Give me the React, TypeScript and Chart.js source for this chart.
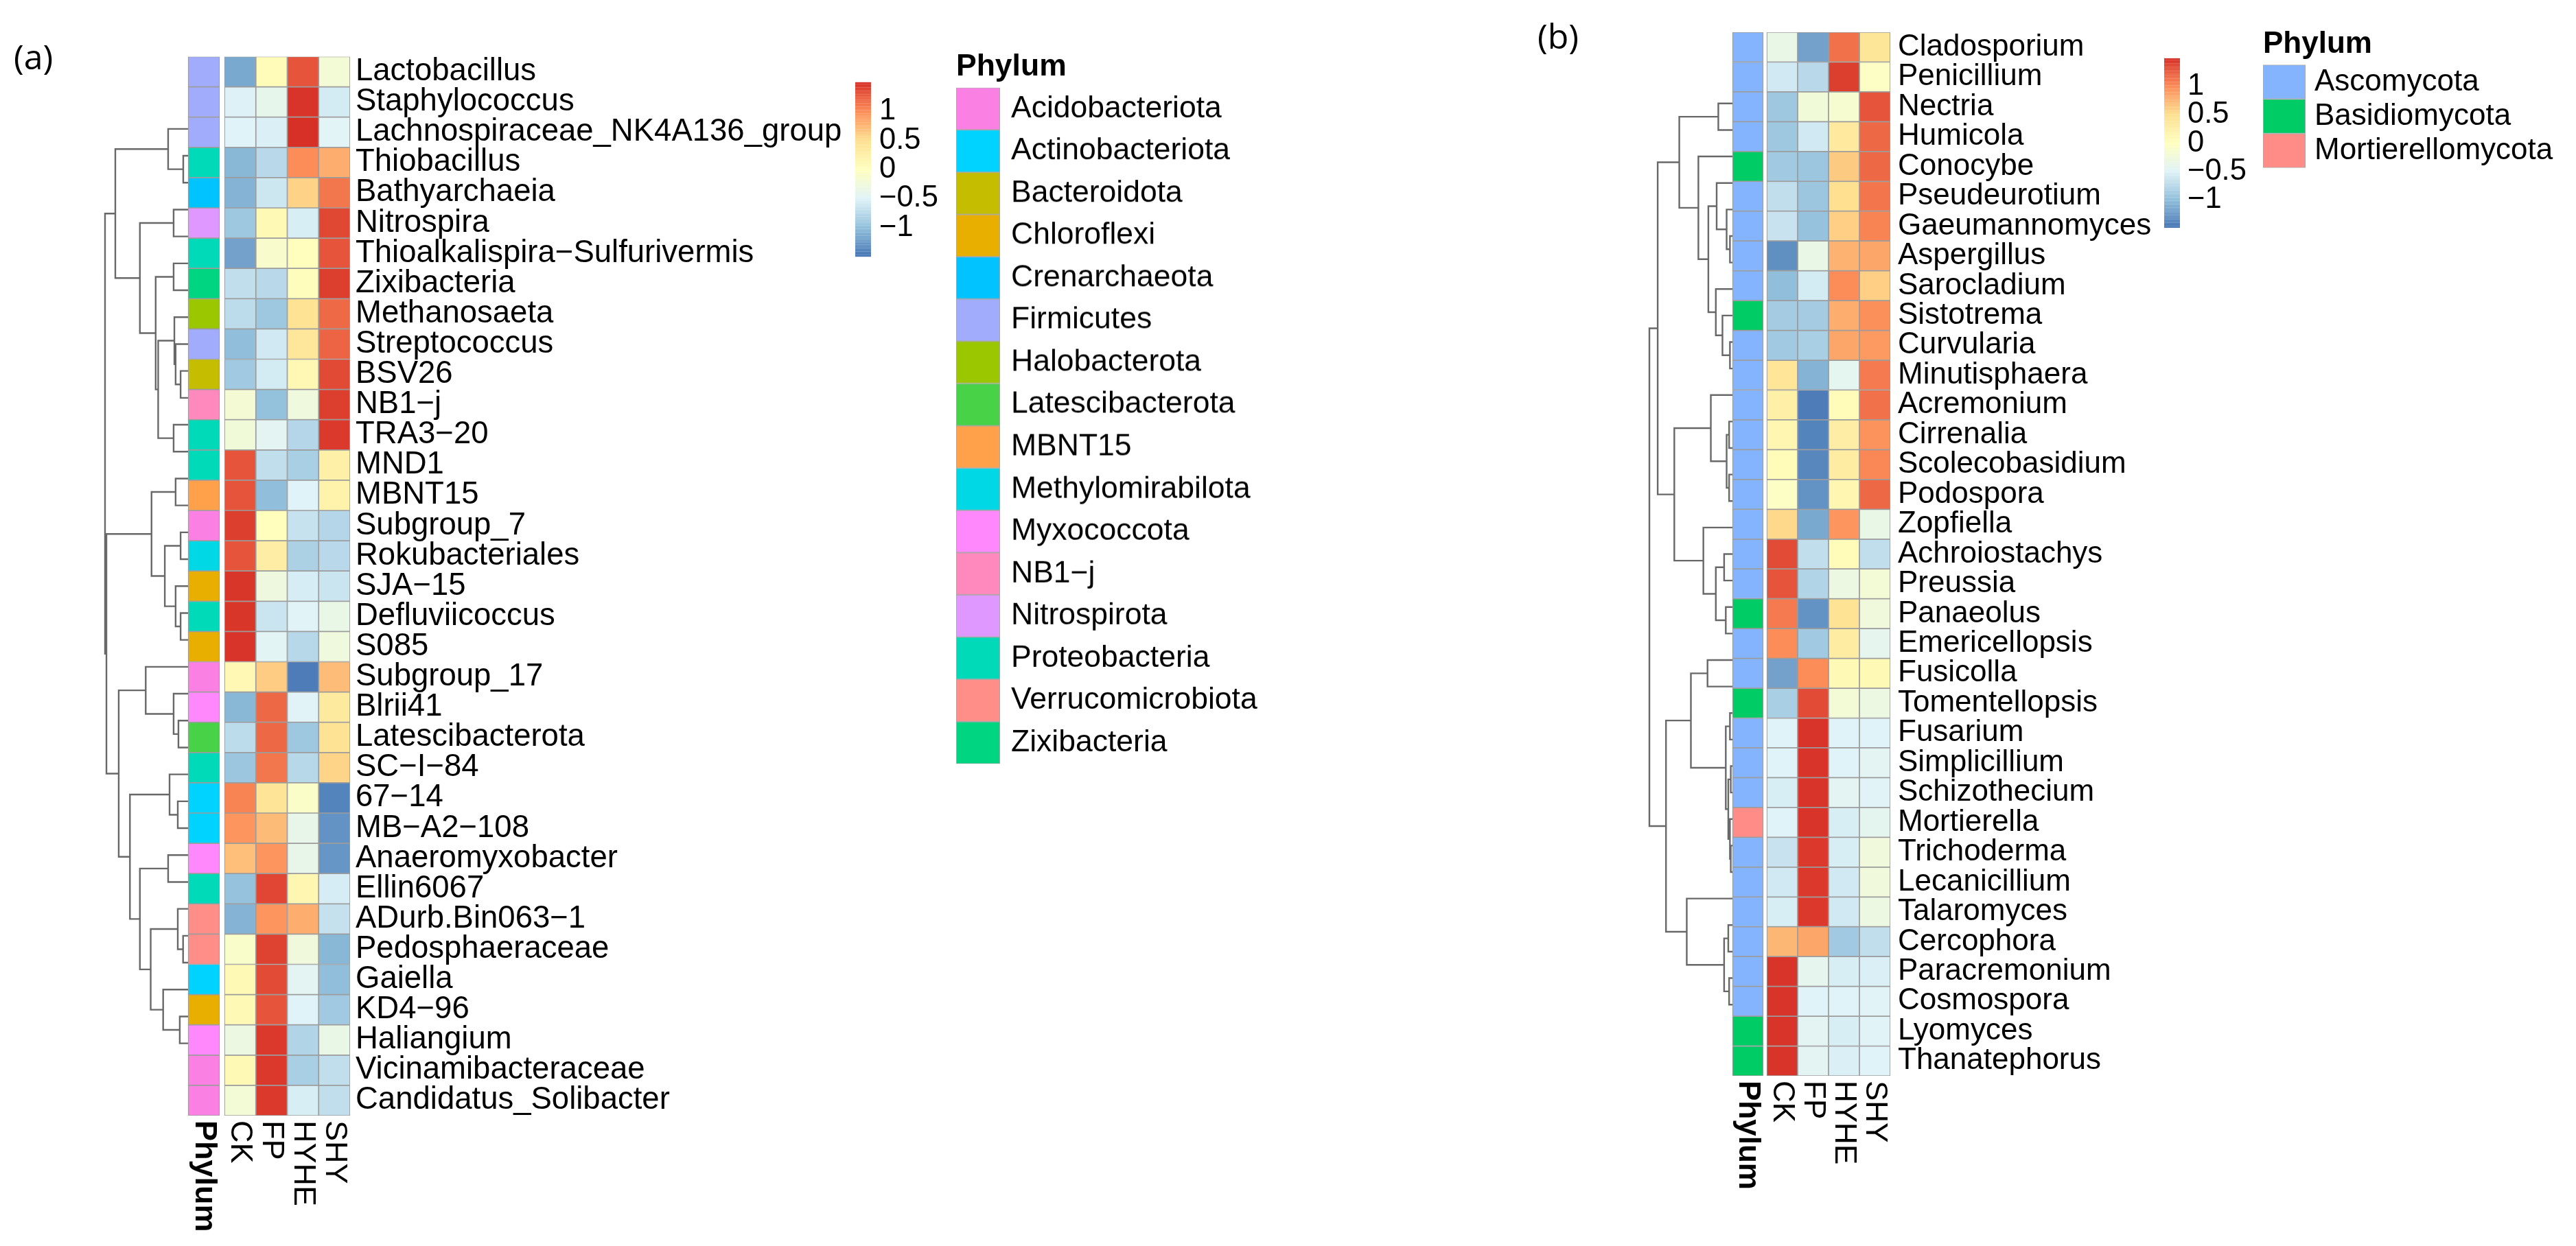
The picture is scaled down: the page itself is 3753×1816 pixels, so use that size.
import React, { useEffect, useRef } from "react";
import { Chart, registerables } from "chart.js";
Chart.register(...registerables);

const FONT = '"Liberation Sans", Arial, Helvetica, sans-serif';

// ---------------- Panel (a) data ----------------
const columnsA = ["CK", "FP", "HYHE", "SHY"];
const rowsA = [
  "Lactobacillus", "Staphylococcus", "Lachnospiraceae_NK4A136_group", "Thiobacillus", "Bathyarchaeia",
  "Nitrospira", "Thioalkalispira\u2212Sulfurivermis", "Zixibacteria", "Methanosaeta", "Streptococcus",
  "BSV26", "NB1\u2212j", "TRA3\u221220", "MND1", "MBNT15", "Subgroup_7", "Rokubacteriales", "SJA\u221215",
  "Defluviicoccus", "S085", "Subgroup_17", "Blrii41", "Latescibacterota", "SC\u2212I\u221284", "67\u221214",
  "MB\u2212A2\u2212108", "Anaeromyxobacter", "Ellin6067", "ADurb.Bin063\u22121", "Pedosphaeraceae", "Gaiella",
  "KD4\u221296", "Haliangium", "Vicinamibacteraceae", "Candidatus_Solibacter",
];
const phylaA = [
  "Acidobacteriota", "Actinobacteriota", "Bacteroidota", "Chloroflexi", "Crenarchaeota", "Firmicutes",
  "Halobacterota", "Latescibacterota", "MBNT15", "Methylomirabilota", "Myxococcota", "NB1\u2212j",
  "Nitrospirota", "Proteobacteria", "Verrucomicrobiota", "Zixibacteria",
];
const phylumColorsA = [
  "#FB80E3", "#00D3FF", "#C5BD00", "#E8AE00", "#00C3FF", "#A1ADFC", "#9BC700", "#47D247",
  "#FFA04A", "#00D8E6", "#FF88FC", "#FF88BD", "#DF98FF", "#00DAB8", "#FF8E88", "#00D681",
];
// phylum index for every row of panel (a)
const rowPhylumA = [5, 5, 5, 13, 4, 12, 13, 15, 6, 5, 2, 11, 13, 13, 8, 0, 9, 3, 13, 3, 0, 10, 7, 13, 1, 1, 10, 13, 14, 14, 1, 3, 10, 0, 0];
const ckA = [-1.15, -0.52, -0.5, -1.05, -1.08, -0.92, -1.2, -0.7, -0.72, -1.0, -0.9, -0.18, -0.22, 1.3, 1.3, 1.42, 1.3, 1.47, 1.47, 1.48, 0.12, -1.05, -0.73, -0.93, 1.05, 0.95, 0.7, -0.97, -1.08, -0.1, 0.1, 0.1, -0.3, 0.1, -0.2];
const fpA = [0.05, -0.38, -0.53, -0.75, -0.62, 0.1, -0.12, -0.75, -0.92, -0.6, -0.58, -0.98, -0.45, -0.7, -1.0, 0.02, 0.28, -0.28, -0.63, -0.46, 0.62, 1.2, 1.2, 1.12, 0.43, 0.72, 0.95, 1.38, 0.95, 1.4, 1.35, 1.3, 1.45, 1.45, 1.45];
const hyheA = [1.3, 1.48, 1.5, 1.0, 0.58, -0.55, 0.02, 0.03, 0.45, 0.38, 0.12, -0.26, -0.78, -0.85, -0.5, -0.66, -0.83, -0.56, -0.49, -0.76, -1.45, -0.49, -0.92, -0.76, -0.08, -0.37, -0.37, 0.15, 0.8, -0.25, -0.45, -0.5, -0.8, -0.85, -0.55];
const shyA = [-0.2, -0.58, -0.47, 0.8, 1.12, 1.37, 1.3, 1.42, 1.19, 1.22, 1.36, 1.42, 1.45, 0.25, 0.2, -0.78, -0.75, -0.63, -0.35, -0.26, 0.71, 0.34, 0.45, 0.57, -1.4, -1.3, -1.28, -0.56, -0.67, -1.05, -1.0, -0.9, -0.35, -0.7, -0.7];

// row dendrogram of (a): [height, left, right], leaves are row indices
type Tree = number | [number, Tree, Tree];
const treeA: Tree = [1.0,
  [0.876,
    [0.24, 0, [0.058, 1, 2]],
    [0.58, [0.174, 3, 4],
      [0.39, [0.174, 5, 6],
        [0.36, [0.165, 7, [0.15, 8, [0.09, 9, 10]]], [0.174, 11, 12]]]]],
  [0.983,
    [0.44, [0.15, 13, 14], [0.28, [0.09, 15, 16], [0.15, 17, [0.09, 18, 19]]]],
    [0.835,
      [0.51, 20, [0.174, 21, [0.116, 22, 23]]],
      [0.7, [0.223, 24, [0.124, 25, 26]],
        [0.58, [0.24, 27, 28],
          [0.45, [0.124, 29, [0.06, 30, 31]], [0.3, 32, [0.1, 33, 34]]]]]]]];

// ---------------- Panel (b) data ----------------
const columnsB = ["CK", "FP", "HYHE", "SHY"];
const rowsB = [
  "Cladosporium", "Penicillium", "Nectria", "Humicola", "Conocybe", "Pseudeurotium", "Gaeumannomyces",
  "Aspergillus", "Sarocladium", "Sistotrema", "Curvularia", "Minutisphaera", "Acremonium", "Cirrenalia",
  "Scolecobasidium", "Podospora", "Zopfiella", "Achroiostachys", "Preussia", "Panaeolus", "Emericellopsis",
  "Fusicolla", "Tomentellopsis", "Fusarium", "Simplicillium", "Schizothecium", "Mortierella", "Trichoderma",
  "Lecanicillium", "Talaromyces", "Cercophora", "Paracremonium", "Cosmospora", "Lyomyces", "Thanatephorus",
];
const phylaB = ["Ascomycota", "Basidiomycota", "Mortierellomycota"];
const phylumColorsB = ["#85B4FF", "#00CC66", "#FF8C86"];
const rowPhylumB = [0, 0, 0, 0, 1, 0, 0, 0, 0, 1, 0, 0, 0, 0, 0, 0, 0, 0, 0, 1, 0, 0, 1, 0, 0, 0, 2, 0, 0, 0, 0, 0, 0, 1, 1];
const ckB = [-0.35, -0.6, -0.92, -0.92, -0.9, -0.7, -0.65, -1.32, -1.0, -0.88, -0.9, 0.42, 0.25, 0.15, 0.05, -0.05, 0.55, 1.35, 1.3, 1.1, 1.0, -1.2, -0.85, -0.5, -0.5, -0.55, -0.5, -0.65, -0.6, -0.55, 0.75, 1.48, 1.48, 1.48, 1.48];
const fpB = [-1.2, -0.75, -0.22, -0.6, -0.93, -0.93, -0.97, -0.35, -0.58, -0.88, -0.85, -1.08, -1.45, -1.4, -1.38, -1.3, -1.15, -0.7, -0.8, -1.3, -0.9, 1.0, 1.35, 1.48, 1.48, 1.48, 1.48, 1.45, 1.45, 1.45, 0.85, -0.4, -0.5, -0.45, -0.45];
const hyheB = [1.15, 1.42, -0.15, 0.35, 0.63, 0.5, 0.6, 0.78, 1.0, 0.8, 0.85, -0.42, 0.05, 0.28, 0.3, 0.15, 0.95, 0.05, -0.3, 0.45, 0.3, 0.1, -0.2, -0.5, -0.5, -0.45, -0.55, -0.55, -0.6, -0.6, -0.9, -0.55, -0.5, -0.55, -0.53];
const shyB = [0.4, -0.05, 1.3, 1.2, 1.2, 1.13, 1.05, 0.85, 0.6, 0.98, 0.92, 1.1, 1.15, 0.97, 1.03, 1.2, -0.35, -0.7, -0.2, -0.25, -0.4, 0.1, -0.3, -0.5, -0.45, -0.48, -0.43, -0.25, -0.25, -0.3, -0.7, -0.53, -0.48, -0.48, -0.5];

const treeB: Tree = [1.0,
  [0.9,
    [0.64, [0.17, 0, 1],
      [0.41, 2,
        [0.29, [0.19, 3, [0.07, 4, [0.03, 5, 6]]], [0.2, 7, [0.12, 8, [0.03, 9, 10]]]]]],
    [0.7,
      [0.26, 11, [0.07, [0.04, 12, 13], [0.04, 14, 15]]],
      [0.35, 16, [0.2, [0.1, 17, 18], [0.08, 19, 20]]]]],
  [0.8,
    [0.5, [0.3, 21, 22],
      [0.08, [0.03, 23, 24], [0.05, [0.02, 25, 26], [0.03, 27, [0.02, 28, 29]]]]],
    [0.55, 30, [0.1, [0.05, 31, 32], [0.04, 33, 34]]]]];

// colour scale (rev RdYlBu, 7 classes) over [-1.5, 1.5]
const scaleStops = ["#4575B4", "#91BFDB", "#E0F3F8", "#FFFFBF", "#FEE090", "#FC8D59", "#D73027"];
const scaleMin = -1.5;
const scaleMax = 1.5;
const legendTicks = [-1, -0.5, 0, 0.5, 1];

function hexToRgb(h: string) {
  const n = parseInt(h.slice(1), 16);
  return [(n >> 16) & 255, (n >> 8) & 255, n & 255];
}
function colorFor(v: number) {
  let t = (v - scaleMin) / (scaleMax - scaleMin);
  t = Math.max(0, Math.min(1, t));
  const p = t * (scaleStops.length - 1);
  const i = Math.min(scaleStops.length - 2, Math.floor(p));
  const f = p - i;
  const a = hexToRgb(scaleStops[i]);
  const b = hexToRgb(scaleStops[i + 1]);
  const c = a.map((x, k) => Math.round(x + (b[k] - x) * f));
  return `rgb(${c[0]},${c[1]},${c[2]})`;
}

function dendroPoints(tree: Tree, leafX: number, rootX: number) {
  const pts: { x: number; y: number | null }[] = [];
  const toX = (h: number) => leafX + (rootX - leafX) * h;
  const walk = (t: Tree): { y: number; h: number } => {
    if (typeof t === "number") return { y: t, h: 0 };
    const [h, a, b] = t;
    const l = walk(a);
    const r = walk(b);
    pts.push({ x: toX(l.h), y: l.y }, { x: toX(h), y: l.y }, { x: toX(h), y: r.y }, { x: toX(r.h), y: r.y }, { x: toX(r.h), y: null });
    return { y: (l.y + r.y) / 2, h };
  };
  walk(tree);
  return pts;
}

type PanelCfg = {
  rows: string[]; columns: string[]; values: number[][]; rowPhylum: number[]; phylumColors: string[];
  tree: Tree; canvasLeft: number; annLeft: number; annRight: number; heatLeft: number; heatRight: number; rootPx: number;
  top: number; bottom: number; labelW: number; labelFont: number; labelPad: number; colFont: number;
};

const panelA: PanelCfg = {
  rows: rowsA, columns: columnsA, values: [ckA, fpA, hyheA, shyA], rowPhylum: rowPhylumA, phylumColors: phylumColorsA,
  tree: treeA, canvasLeft: 0, annLeft: 274, annRight: 320, heatLeft: 327, heatRight: 510, rootPx: 153,
  top: 82.5, bottom: 1626, labelW: 735, labelFont: 45.5, labelPad: 8, colFont: 45,
};
const panelB: PanelCfg = {
  rows: rowsB, columns: columnsB, values: [ckB, fpB, hyheB, shyB], rowPhylum: rowPhylumB, phylumColors: phylumColorsB,
  tree: treeB, canvasLeft: 2300, annLeft: 2524, annRight: 2569, heatLeft: 2574, heatRight: 2754, rootPx: 2403,
  top: 47, bottom: 1568, labelW: 399, labelFont: 44, labelPad: 11, colFont: 44,
};

const H = 1816;

function Heatmap({ cfg }: { cfg: PanelCfg }) {
  const ref = useRef<HTMLCanvasElement>(null);
  const width = cfg.heatRight - cfg.canvasLeft + cfg.labelW;
  useEffect(() => {
    const cellW = (cfg.heatRight - cfg.heatLeft) / 4;
    const toUnit = (px: number) => (px - cfg.heatLeft) / cellW;
    const chartLeft = cfg.rootPx - 3;
    const xMin = toUnit(chartLeft);
    const annL = toUnit(cfg.annLeft), annR = toUnit(cfg.annRight);
    const rootX = toUnit(cfg.rootPx);
    const n = cfg.rows.length;
    const colLabels = [{ text: "Phylum", x: (annL + annR) / 2, bold: true }].concat(
      cfg.columns.map((c, i) => ({ text: c, x: i + 0.5, bold: false }))
    );
    const colPlugin = {
      id: "colLabels",
      afterDraw(chart: any) {
        const { ctx, chartArea, scales } = chart;
        ctx.save();
        ctx.fillStyle = "#000";
        ctx.textBaseline = "middle";
        ctx.textAlign = "left";
        for (const l of colLabels) {
          ctx.font = `${l.bold ? "bold " : ""}${cfg.colFont}px ${FONT}`;
          const px = scales.x.getPixelForValue(l.x);
          ctx.save();
          ctx.translate(px, chartArea.bottom + 7);
          ctx.rotate(Math.PI / 2);
          ctx.fillText(l.text, 0, 0);
          ctx.restore();
        }
        ctx.restore();
      },
    };
    const cellDatasets: any[] = cfg.columns.map((c, ci) => ({
      type: "bar", label: c, indexAxis: "y", xAxisID: "x", yAxisID: "y",
      data: cfg.rows.map(() => [ci, ci + 1]),
      backgroundColor: cfg.values[ci].map(colorFor),
      borderColor: "#9C9C9C", borderWidth: 1.2, borderSkipped: false,
      barPercentage: 1, categoryPercentage: 1, grouped: false,
    }));
    const chart = new Chart(ref.current!, {
      type: "bar",
      data: {
        labels: cfg.rows,
        datasets: [
          ...cellDatasets,
          {
            type: "bar", label: "Phylum", indexAxis: "y", xAxisID: "x", yAxisID: "y",
            data: cfg.rows.map(() => [annL, annR]),
            backgroundColor: cfg.rowPhylum.map((p) => cfg.phylumColors[p]),
            borderColor: "#9C9C9C", borderWidth: 1.2, borderSkipped: false,
            barPercentage: 1, categoryPercentage: 1, grouped: false,
          } as any,
          {
            type: "line", label: "tree", indexAxis: "x", xAxisID: "x", yAxisID: "yd",
            data: dendroPoints(cfg.tree, annL, rootX),
            borderColor: "#686868", borderWidth: 2.4, pointRadius: 0, spanGaps: false, fill: false, tension: 0,
          } as any,
        ],
      },
      options: {
        animation: false, responsive: false, devicePixelRatio: 1, events: [],
        indexAxis: "y",
        layout: { padding: { left: chartLeft - cfg.canvasLeft, top: cfg.top, bottom: H - cfg.bottom, right: 0 } },
        plugins: { legend: { display: false }, tooltip: { enabled: false }, title: { display: false } },
        scales: {
          x: { type: "linear", min: xMin, max: 4, display: false },
          y: {
            type: "category", position: "right", offset: true,
            grid: { display: false, drawTicks: false }, border: { display: false },
            ticks: { autoSkip: false, color: "#000", padding: cfg.labelPad, font: { family: FONT, size: cfg.labelFont } },
            afterFit: (s: any) => { s.width = cfg.labelW; },
          },
          yd: { type: "linear", min: -0.5, max: n - 0.5, reverse: true, display: false },
        } as any,
      },
      plugins: [colPlugin],
    });
    return () => chart.destroy();
  }, []);
  return (
    <canvas ref={ref} width={width} height={H}
      style={{ position: "absolute", left: cfg.canvasLeft, top: 0, width, height: H }} />
  );
}

function ColorBar({ left, barW, top, bottom, font, gap }: { left: number; barW: number; top: number; bottom: number; font: number; gap: number }) {
  const ref = useRef<HTMLCanvasElement>(null);
  const axisW = 140;
  const pad = 30;
  const width = barW + axisW;
  const height = bottom - top + 2 * pad;
  useEffect(() => {
    const steps: number[] = [];
    const nSteps = 100;
    for (let i = 0; i < nSteps; i++) steps.push(scaleMin + ((i + 0.5) * (scaleMax - scaleMin)) / nSteps);
    const chart = new Chart(ref.current!, {
      type: "bar",
      data: {
        datasets: [{
          indexAxis: "y",
          data: steps.map((v) => ({ y: v, x: [0, 1] })) as any,
          backgroundColor: steps.map(colorFor),
          borderWidth: 0, barPercentage: 1.06, categoryPercentage: 1,
        } as any],
      },
      options: {
        animation: false, responsive: false, devicePixelRatio: 1, events: [],
        indexAxis: "y",
        layout: { padding: { left: 0, right: 0, top: pad, bottom: pad } },
        plugins: { legend: { display: false }, tooltip: { enabled: false } },
        scales: {
          x: { type: "linear", min: 0, max: 1, display: false },
          y: {
            type: "linear", min: scaleMin, max: scaleMax, position: "right",
            grid: { display: false, drawTicks: false }, border: { display: false },
            afterBuildTicks: (s: any) => { s.ticks = legendTicks.map((v) => ({ value: v })); },
            afterFit: (s: any) => { s.width = axisW; },
            ticks: {
              color: "#000", padding: gap, font: { family: FONT, size: font },
              callback: (v: any) => (Number(v) < 0 ? "\u2212" : "") + String(Math.abs(Number(v))),
            },
          },
        } as any,
      },
    });
    return () => chart.destroy();
  }, []);
  return (
    <canvas ref={ref} width={width} height={height}
      style={{ position: "absolute", left, top: top - pad, width, height }} />
  );
}

function PhylumLegend({ left, boxTop, box, names, colors, font, titleFont, titleCenter, labelW, gap }:
  { left: number; boxTop: number; box: number; names: string[]; colors: string[]; font: number; titleFont: number; titleCenter: number; labelW: number; gap: number }) {
  const ref = useRef<HTMLCanvasElement>(null);
  const lineH = titleFont * 1.2;
  const canvasTop = titleCenter - lineH / 2;
  const titleBlock = boxTop - canvasTop;
  const padBottom = Math.max(0, titleBlock - lineH);
  const width = box + labelW;
  const height = titleBlock + box * names.length + 4;
  useEffect(() => {
    const chart = new Chart(ref.current!, {
      type: "bar",
      data: {
        labels: names,
        datasets: [{
          indexAxis: "y", data: names.map(() => [0, 1]) as any, backgroundColor: colors,
          borderColor: "#A8A8A8", borderWidth: 1.2, borderSkipped: false, barPercentage: 1, categoryPercentage: 1,
        } as any],
      },
      options: {
        animation: false, responsive: false, devicePixelRatio: 1, events: [],
        indexAxis: "y",
        layout: { padding: { left: 0, right: 0, top: 0, bottom: 4 } },
        plugins: {
          legend: { display: false }, tooltip: { enabled: false },
          title: {
            display: true, text: "Phylum", align: "start", color: "#000",
            font: { family: FONT, size: titleFont, weight: "bold", lineHeight: 1.2 },
            padding: { top: 0, bottom: padBottom },
          },
        },
        scales: {
          x: { type: "linear", min: 0, max: 1, display: false },
          y: {
            type: "category", position: "right", offset: true,
            grid: { display: false, drawTicks: false }, border: { display: false },
            ticks: { autoSkip: false, color: "#000", padding: gap, font: { family: FONT, size: font } },
            afterFit: (s: any) => { s.width = labelW; },
          },
        } as any,
      },
    });
    return () => chart.destroy();
  }, []);
  return (
    <canvas ref={ref} width={width} height={height}
      style={{ position: "absolute", left, top: canvasTop, width, height }} />
  );
}

export default function App() {
  const tag = { position: "absolute" as const, fontFamily: '"Open Sans", sans-serif', fontSize: 50, lineHeight: "50px", color: "#000" };
  return (
    <div style={{ position: "fixed", left: 0, top: 0, width: 3753, height: H, background: "#fff", overflow: "hidden" }}>
      <div style={{ ...tag, left: 20, top: 57 }}>(a)</div>
      <div style={{ ...tag, left: 2240, top: 27 }}>(b)</div>
      <Heatmap cfg={panelA} />
      <Heatmap cfg={panelB} />
      <ColorBar left={1245.5} barW={23} top={80} bottom={414} font={43.5} gap={12} />
      <ColorBar left={3153} barW={23} top={47} bottom={370} font={43.5} gap={11} />
      <PhylumLegend left={1393} boxTop={128} box={64} names={phylaA} colors={phylumColorsA} font={44.5}
        titleFont={44.5} titleCenter={98} labelW={430} gap={16} />
      <PhylumLegend left={3297} boxTop={94} box={62} names={phylaB} colors={phylumColorsB} font={44}
        titleFont={44} titleCenter={64} labelW={440} gap={13} />
    </div>
  );
}
